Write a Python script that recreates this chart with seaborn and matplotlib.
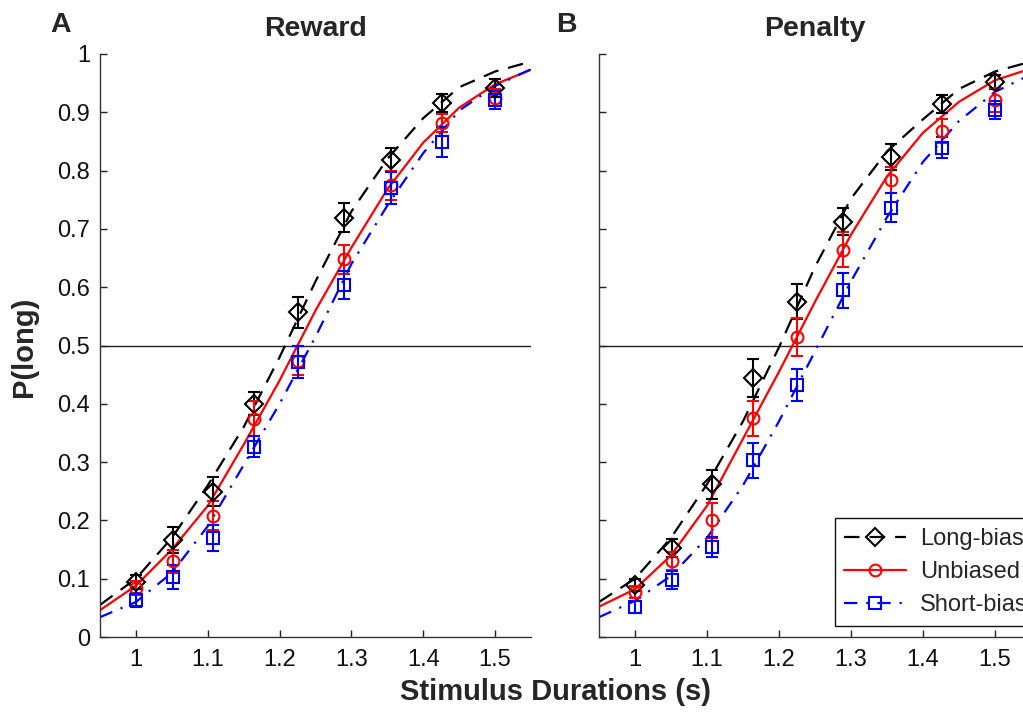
import matplotlib
matplotlib.use("Agg")
import matplotlib.pyplot as plt
import seaborn as sns
from matplotlib.lines import Line2D

# ---------------- data ----------------
durations = [1.0, 1.052, 1.107, 1.164, 1.225, 1.289, 1.355, 1.426, 1.5]
series_names = ["Long-bias", "Unbiased", "Short-bias"]
panel_titles = ["Reward", "Penalty"]
panel_letters = ["A", "B"]
xticks = [1.0, 1.1, 1.2, 1.3, 1.4, 1.5]
xtick_labels = ["1", "1.1", "1.2", "1.3", "1.4", "1.5"]
yticks = [0, 0.1, 0.2, 0.3, 0.4, 0.5, 0.6, 0.7, 0.8, 0.9, 1.0]
ytick_labels = ["0", "0.1", "0.2", "0.3", "0.4", "0.5", "0.6", "0.7", "0.8", "0.9", "1"]

# Reward panel: observed proportions and error bars
reward_long = [0.094, 0.166, 0.249, 0.400, 0.557, 0.719, 0.818, 0.916, 0.942]
reward_long_err = [0.012, 0.022, 0.025, 0.020, 0.027, 0.025, 0.021, 0.015, 0.015]
reward_unb = [0.084, 0.130, 0.208, 0.374, 0.474, 0.648, 0.775, 0.882, 0.925]
reward_unb_err = [0.012, 0.020, 0.025, 0.030, 0.025, 0.025, 0.025, 0.015, 0.015]
reward_short = [0.063, 0.103, 0.170, 0.326, 0.472, 0.604, 0.770, 0.849, 0.921]
reward_short_err = [0.012, 0.020, 0.022, 0.018, 0.027, 0.024, 0.027, 0.025, 0.015]

# Penalty panel
penalty_long = [0.089, 0.153, 0.262, 0.444, 0.575, 0.712, 0.823, 0.914, 0.952]
penalty_long_err = [0.010, 0.015, 0.025, 0.032, 0.030, 0.023, 0.022, 0.015, 0.012]
penalty_unb = [0.077, 0.130, 0.200, 0.375, 0.515, 0.664, 0.784, 0.868, 0.921]
penalty_unb_err = [0.010, 0.015, 0.030, 0.030, 0.033, 0.030, 0.022, 0.020, 0.020]
penalty_short = [0.052, 0.098, 0.155, 0.303, 0.432, 0.595, 0.736, 0.839, 0.904]
penalty_short_err = [0.010, 0.015, 0.017, 0.030, 0.027, 0.030, 0.025, 0.018, 0.015]

# Fitted psychometric curves
curve_x = [0.95, 1.0, 1.05, 1.1, 1.15, 1.2, 1.25, 1.3, 1.35, 1.4, 1.45, 1.5, 1.55]
reward_long_fit = [0.055, 0.100, 0.170, 0.260, 0.360, 0.480, 0.610, 0.730, 0.820, 0.890, 0.943, 0.970, 0.987]
reward_unb_fit = [0.046, 0.088, 0.150, 0.225, 0.330, 0.440, 0.560, 0.668, 0.768, 0.848, 0.908, 0.948, 0.973]
reward_short_fit = [0.034, 0.060, 0.110, 0.190, 0.295, 0.400, 0.515, 0.640, 0.740, 0.830, 0.903, 0.945, 0.974]
penalty_long_fit = [0.060, 0.100, 0.170, 0.262, 0.370, 0.497, 0.635, 0.752, 0.833, 0.888, 0.940, 0.970, 0.987]
penalty_unb_fit = [0.052, 0.082, 0.140, 0.225, 0.340, 0.455, 0.575, 0.690, 0.790, 0.865, 0.918, 0.955, 0.975]
penalty_short_fit = [0.034, 0.062, 0.105, 0.170, 0.260, 0.370, 0.490, 0.610, 0.720, 0.815, 0.885, 0.935, 0.965]

# ---------------- style ----------------
sns.set_theme(style="ticks")
plt.rcParams["font.family"] = ["Liberation Sans", "DejaVu Sans"]

colors = ["#000000", "#ff0000", "#0000ff"]
markers = ["D", "o", "s"]
msizes = [9, 8.5, 8.5]
dash_patterns = [(7, 4.5), None, (6, 4, 1, 4)]

fig = plt.figure(figsize=(10.23, 7.13), dpi=100)
ax1 = fig.add_axes([100 / 1023, 1 - 637 / 713, 431 / 1023, 583 / 713])
ax2 = fig.add_axes([599 / 1023, 1 - 637 / 713, 432 / 1023, 583 / 713])

panels = [
    (ax1, [reward_long, reward_unb, reward_short],
     [reward_long_err, reward_unb_err, reward_short_err],
     [reward_long_fit, reward_unb_fit, reward_short_fit]),
    (ax2, [penalty_long, penalty_unb, penalty_short],
     [penalty_long_err, penalty_unb_err, penalty_short_err],
     [penalty_long_fit, penalty_unb_fit, penalty_short_fit]),
]

for i, (ax, obs, errs, fits) in enumerate(panels):
    ax.axhline(0.5, color="#222222", lw=1.0, zorder=1)
    for k in range(3):
        sns.lineplot(x=curve_x, y=fits[k], ax=ax, color=colors[k], lw=1.6,
                     estimator=None, sort=False, zorder=2)
        line = ax.lines[-1]
        if dash_patterns[k] is not None:
            line.set_dashes(dash_patterns[k])
    for k in range(3):
        ax.errorbar(durations, obs[k], yerr=errs[k], fmt=markers[k], color=colors[k],
                    mfc="none", mec=colors[k], ms=msizes[k], mew=1.5,
                    elinewidth=1.5, capsize=4.2, capthick=1.5, ls="none", zorder=3)
    ax.set_xlim(0.95, 1.55)
    ax.set_ylim(0, 1)
    ax.set_xticks(xticks)
    ax.set_xticklabels(xtick_labels)
    ax.set_yticks(yticks)
    if i == 0:
        ax.set_yticklabels(ytick_labels)
    else:
        ax.set_yticklabels([])
    ax.tick_params(axis="both", direction="in", length=5, width=1, colors="#222222",
                   labelsize=17, labelcolor="#111111")
    ax.tick_params(axis="y", pad=7)
    ax.tick_params(axis="x", pad=9)
    for s in ["top", "right"]:
        ax.spines[s].set_visible(False)
    for s in ["left", "bottom"]:
        ax.spines[s].set_color("#333333")
        ax.spines[s].set_linewidth(1.0)
    ax.set_xlabel("")
    ax.set_ylabel("")
    ax.set_title(panel_titles[i], fontsize=20.5, fontweight="bold", pad=13)
    ax.grid(False)

# legend on panel B (cut by the figure's right edge, as in the original)
handles = []
for k in range(3):
    h = Line2D([], [], color=colors[k], lw=1.6, marker=markers[k], mfc="none",
               mec=colors[k], ms=msizes[k], mew=1.5)
    if dash_patterns[k] is not None:
        h.set_dashes(dash_patterns[k])
    handles.append(h)
leg = ax2.legend(handles, series_names, loc="lower left", bbox_to_anchor=(0.546, 0.019),
                 borderaxespad=0, fontsize=17, frameon=True, fancybox=False,
                 edgecolor="#111111", framealpha=1, handlelength=2.6, borderpad=0.4,
                 labelspacing=0.48, handletextpad=0.6)
leg.get_frame().set_linewidth(1.0)

fig.text(61 / 1023, 1 - 25 / 713, panel_letters[0], fontsize=20.5, fontweight="bold",
         ha="center", va="center")
fig.text(566 / 1023, 1 - 25 / 713, panel_letters[1], fontsize=20.5, fontweight="bold",
         ha="center", va="center")
fig.text(556 / 1023, 1 - 692 / 713, "Stimulus Durations (s)", fontsize=21,
         fontweight="bold", ha="center", va="center")
fig.text(24 / 1023, 1 - 347 / 713, "P(long)", fontsize=21, fontweight="bold",
         ha="center", va="center", rotation=90)

fig.savefig("out.png", dpi=100)
